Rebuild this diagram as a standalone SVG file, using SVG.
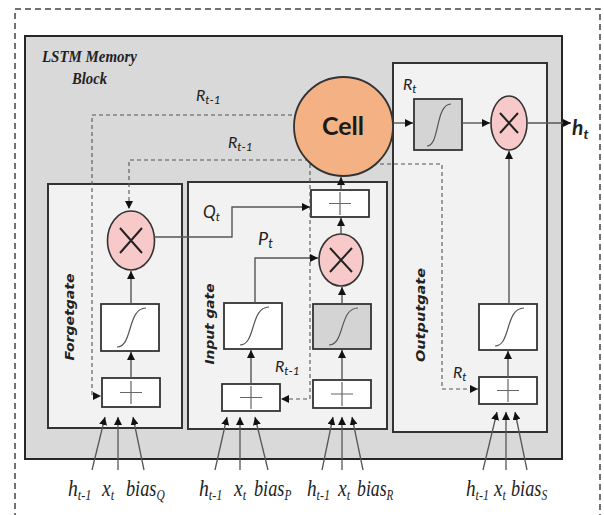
<svg xmlns="http://www.w3.org/2000/svg" width="604" height="515" viewBox="0 0 604 515">
<style>
.blk{fill:#d9d9d9;stroke:#262626;stroke-width:2}
.gate{fill:#f2f2f2;stroke:#333;stroke-width:2}
.box{fill:#fff;stroke:#333;stroke-width:1.8}
.gbox{fill:#d4d4d4;stroke:#333;stroke-width:1.8}
.mul{fill:#f8c9c9;stroke:#333;stroke-width:1.6}
.x{stroke:#222;stroke-width:2;fill:none}
.plus{stroke:#666;stroke-width:1.2;fill:none}
.sig{stroke:#555;stroke-width:1.2;fill:none}
.ln{stroke:#555;stroke-width:1.4;fill:none}
.dash{stroke:#555;stroke-width:1.1;fill:none;stroke-dasharray:4 3}
.inp{stroke:#555;stroke-width:1.3;fill:none}
.ser{font-family:"Liberation Serif",serif;font-style:italic;fill:#222}
.sans{font-family:Lato,"Open Sans",sans-serif;font-style:italic;fill:#222}
.vert{font-family:"DejaVu Sans",sans-serif;font-style:italic;font-weight:bold;font-size:13px;fill:#222}
.lab{font-family:"Liberation Serif",serif;font-style:italic;font-size:24px;fill:#222}
.sub{font-size:15px}
</style>
<defs>
<marker id="ah" viewBox="0 0 10 10" refX="10" refY="5" markerWidth="8" markerHeight="8" markerUnits="userSpaceOnUse" orient="auto"><path d="M0,0 L10,5 L0,10 z" fill="#111"/></marker>
</defs>
<rect x="15" y="9" width="585" height="530" fill="#fff" stroke="#444" stroke-width="1.5" stroke-dasharray="6 4"/>
<g id="block">
<rect class="blk" x="25" y="36" width="537" height="423"/>
<text class="ser" font-weight="bold" font-size="17" x="42" y="62" textLength="95" lengthAdjust="spacingAndGlyphs">LSTM Memory</text>
<text class="ser" font-weight="bold" font-size="17" x="72" y="84" textLength="35" lengthAdjust="spacingAndGlyphs">Block</text>
</g>
<g id="forgetgate">
<rect class="gate" x="48" y="184" width="134" height="244"/>
<text class="vert" transform="translate(74,317) rotate(-90)" text-anchor="middle" textLength="87" lengthAdjust="spacingAndGlyphs">Forgetgate</text>
</g>
<g id="inputgate">
<rect class="gate" x="188" y="182" width="199" height="247"/>
<text class="vert" transform="translate(214,324) rotate(-90)" text-anchor="middle" textLength="81" lengthAdjust="spacingAndGlyphs">Input gate</text>
</g>
<g id="outputgate">
<rect class="gate" x="393" y="63" width="154" height="369"/>
<text class="vert" transform="translate(425,315) rotate(-90)" text-anchor="middle" textLength="94" lengthAdjust="spacingAndGlyphs">Outputgate</text>
</g>
<g id="forget-mul"><ellipse class="mul" cx="131" cy="240.5" rx="23.5" ry="29.5"/><path class="x" d="M120,228 L142,253 M142,228 L120,253"/></g>
<g id="forget-sig"><rect class="box" x="101" y="304" width="58" height="47"/><path class="sig" d="M117,347 C133,347 127,308 146,308"/></g>
<g id="forget-sum"><rect class="box" x="102" y="378" width="58" height="29"/><path class="plus" d="M120,392.5 H142 M131,381 V404"/></g>
<g id="input-sig"><rect class="box" x="224" y="303" width="58" height="46"/><path class="sig" d="M240,345 C256,345 250,307 269,307"/></g>
<g id="input-sum"><rect class="box" x="222" y="384" width="58" height="27"/><path class="plus" d="M240,397.5 H262 M251,386 V409"/></g>
<g id="cand-sum-top"><rect class="box" x="311" y="190" width="58" height="27"/><path class="plus" d="M329,203.5 H351 M340,192 V215"/></g>
<g id="cand-mul"><ellipse class="mul" cx="341" cy="260" rx="22" ry="26"/><path class="x" d="M330,248 L352,272 M352,248 L330,272"/></g>
<g id="cand-sig"><rect class="gbox" x="313" y="304" width="58" height="45"/><path class="sig" d="M329,345 C345,345 339,308 358,308"/></g>
<g id="cand-sum"><rect class="box" x="313" y="380" width="58" height="28"/><path class="plus" d="M331,394 H353 M342,382 V406"/></g>
<g id="out-tanh"><rect class="gbox" x="414" y="99" width="48" height="51"/><path class="sig" d="M427,146 C440,146 435,104 451,104"/></g>
<g id="out-mul"><ellipse class="mul" cx="509" cy="123" rx="18" ry="27"/><path class="x" d="M500,113 L518,133 M518,113 L500,133"/></g>
<g id="out-sig"><rect class="box" x="479" y="304" width="58" height="46"/><path class="sig" d="M495,346 C511,346 505,308 524,308"/></g>
<g id="out-sum"><rect class="box" x="479" y="377" width="58" height="27"/><path class="plus" d="M497,390.5 H519 M508,379 V402"/></g>
<g id="connectors">
<path class="dash" d="M320,115 H92 V396 H101" marker-end="url(#ah)"/>
<path class="dash" d="M330,160 H129 V209" marker-end="url(#ah)"/>
<path class="dash" d="M310,164 H442 V389 H478" marker-end="url(#ah)"/>
<path class="dash" d="M310,164 V399 H281" marker-end="url(#ah)"/>
<path class="ln" d="M154,237 H232 V207 H310" marker-end="url(#ah)"/>
<path class="ln" d="M255,303 V258 H318" marker-end="url(#ah)"/>
<path class="ln" d="M131,378 V352" marker-end="url(#ah)"/>
<path class="ln" d="M131,304 V271" marker-end="url(#ah)"/>
<path class="ln" d="M251,384 V350" marker-end="url(#ah)"/>
<path class="ln" d="M342,380 V350" marker-end="url(#ah)"/>
<path class="ln" d="M342,304 V287" marker-end="url(#ah)"/>
<path class="ln" d="M341,234 V218" marker-end="url(#ah)"/>
<path class="ln" d="M341,190 V177" marker-end="url(#ah)"/>
<path class="ln" d="M393,123 H413" marker-end="url(#ah)"/>
<path class="ln" d="M462,123 H490" marker-end="url(#ah)"/>
<path class="ln" d="M527,123 H571" marker-end="url(#ah)"/>
<path class="ln" d="M508,377 V351" marker-end="url(#ah)"/>
<path class="ln" d="M509,304 V151" marker-end="url(#ah)"/>
<path class="inp" d="M92,470 L105,417" marker-end="url(#ah)"/>
<path class="inp" d="M118,470 L118,417" marker-end="url(#ah)"/>
<path class="inp" d="M144,470 L133,417" marker-end="url(#ah)"/>
<path class="inp" d="M215,470 L227,417" marker-end="url(#ah)"/>
<path class="inp" d="M240,470 L240,417" marker-end="url(#ah)"/>
<path class="inp" d="M268,470 L255,417" marker-end="url(#ah)"/>
<path class="inp" d="M322,470 L333,417" marker-end="url(#ah)"/>
<path class="inp" d="M342,470 L342,417" marker-end="url(#ah)"/>
<path class="inp" d="M363,470 L352,417" marker-end="url(#ah)"/>
<path class="inp" d="M483,470 L497,412" marker-end="url(#ah)"/>
<path class="inp" d="M506,470 L506,412" marker-end="url(#ah)"/>
<path class="inp" d="M527,470 L515,412" marker-end="url(#ah)"/>
</g>
<g id="cell">
<circle cx="343.5" cy="126.5" r="49.5" fill="#f4b183" stroke="#333" stroke-width="1.8"/>
<text x="343" y="135" text-anchor="middle" font-family="Lato,'Open Sans',sans-serif" font-weight="bold" font-size="25" fill="#1a1a1a">Cell</text>
</g>
<g id="labels">
<text class="sans" font-size="16" x="196" y="101">R<tspan font-size="12" dy="3">t-1</tspan></text>
<text class="sans" font-size="16" x="228" y="148">R<tspan font-size="12" dy="3">t-1</tspan></text>
<text class="sans" font-size="16" x="275" y="372">R<tspan font-size="12" dy="3">t-1</tspan></text>
<text class="sans" font-size="16" x="403" y="90">R<tspan font-size="12" dy="3">t</tspan></text>
<text class="sans" font-size="16" x="453" y="378">R<tspan font-size="12" dy="3">t</tspan></text>
<text class="sans" font-size="17" x="203" y="218">Q<tspan font-size="12" dy="3">t</tspan></text>
<text class="sans" font-size="18" x="258" y="245">P<tspan font-size="13" dy="3">t</tspan></text>
<text class="sans" font-size="21" font-weight="bold" x="572" y="135">h<tspan font-size="14" dy="4">t</tspan></text>
</g>
<g id="inputs" class="lab">
<text transform="translate(68,496) scale(0.82,1)">h<tspan class="sub" dy="4">t-1</tspan></text>
<text transform="translate(102,496) scale(0.82,1)">x<tspan class="sub" dy="4">t</tspan></text>
<text transform="translate(126,496) scale(0.76,1)">bias<tspan class="sub" dy="4">Q</tspan></text>
<text transform="translate(199,496) scale(0.82,1)">h<tspan class="sub" dy="4">t-1</tspan></text>
<text transform="translate(234,496) scale(0.82,1)">x<tspan class="sub" dy="4">t</tspan></text>
<text transform="translate(254,496) scale(0.76,1)">bias<tspan class="sub" dy="4">P</tspan></text>
<text transform="translate(307,496) scale(0.8,1)">h<tspan class="sub" dy="4">t-1</tspan></text>
<text transform="translate(338,496) scale(0.82,1)">x<tspan class="sub" dy="4">t</tspan></text>
<text transform="translate(357,496) scale(0.74,1)">bias<tspan class="sub" dy="4">R</tspan></text>
<text transform="translate(466,496) scale(0.8,1)">h<tspan class="sub" dy="4">t-1</tspan></text>
<text transform="translate(494,496) scale(0.8,1)">x<tspan class="sub" dy="4">t</tspan></text>
<text transform="translate(511,496) scale(0.76,1)">bias<tspan class="sub" dy="4">S</tspan></text>
</g>
</svg>
